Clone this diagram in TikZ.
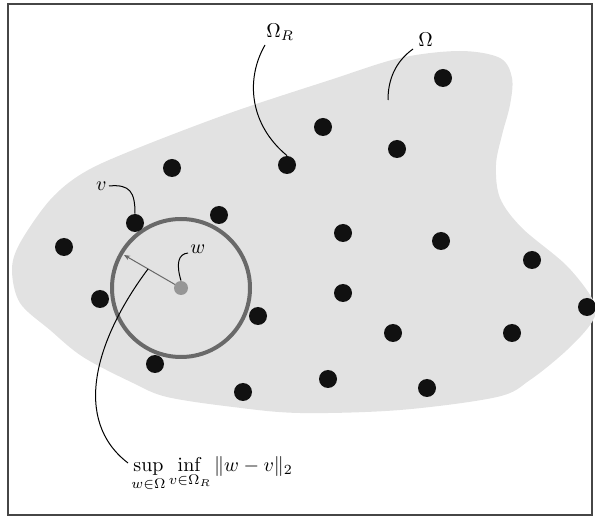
\documentclass[tikz,border=0pt]{standalone}
\usepackage{amsmath}
\usetikzlibrary{arrows.meta}
\definecolor{blobgray}{RGB}{226,226,226}
\definecolor{ringgray}{RGB}{105,105,105}
\definecolor{dotblack}{RGB}{17,17,17}
\definecolor{wgray}{RGB}{150,150,150}
\definecolor{framegray}{RGB}{70,70,70}
\begin{document}
\begin{tikzpicture}[x=0.5pt,y=-0.5pt,
  pt/.style={circle,fill=dotblack,inner sep=0pt,minimum size=9pt},
  wpt/.style={circle,fill=wgray,inner sep=0pt,minimum size=7pt},
  leader/.style={draw=black,line width=0.5pt},
  lbl/.style={inner sep=0pt}]
\useasboundingbox (0,0) rectangle (595,518);
\draw[framegray,line width=0.8pt] (8,4) rectangle (592,515);
% region Omega
\fill[blobgray] plot[smooth cycle,tension=0.55] coordinates {
 (83,173) (133,150) (230,113) (330,80) (400,58) (460,51) (500,58) (512,78)
 (510,105) (502,135) (496,165) (500,198) (522,228) (567,266) (594,302)
 (592,322) (567,350) (530,380) (497,397) (400,410) (300,413) (233,407)
 (167,397) (133,383) (83,357) (50,330) (20,303) (12,270) (20,243) (50,200)};
% ring and radius arrow
\coordinate (c) at (181,288);
\coordinate (tip) at (124,255);
\draw[ringgray,line width=2pt] (c) circle[radius=34.5pt];
\draw[ringgray,line width=0.5pt,-{Stealth[length=3pt,width=2.4pt]}] (c) -- (tip);
\node[wpt] (w) at (c) {};
% points of Omega_R
\node[pt] (d1) at (443,78) {};
\node[pt] (d2) at (323,127) {};
\node[pt] (d3) at (397,149) {};
\node[pt] (dR) at (287,165) {};
\node[pt] (d5) at (172,168) {};
\node[pt] (d6) at (219,215) {};
\node[pt] (dv) at (135,223) {};
\node[pt] (d8) at (64,247) {};
\node[pt] (d9) at (343,233) {};
\node[pt] (d10) at (441,241) {};
\node[pt] (d11) at (532,260) {};
\node[pt] (d12) at (100,299) {};
\node[pt] (d13) at (343,293) {};
\node[pt] (d14) at (258,316) {};
\node[pt] (d15) at (587,307) {};
\node[pt] (d16) at (393,333) {};
\node[pt] (d17) at (512,333) {};
\node[pt] (d18) at (155,364) {};
\node[pt] (d19) at (328,379) {};
\node[pt] (d20) at (243,392) {};
\node[pt] (d21) at (427,388) {};
% labels
\node[lbl,anchor=base west] (OR) at (266,38) {$\Omega_R$};
\node[lbl,anchor=base west] (O) at (418,47) {$\Omega$};
\node[lbl,anchor=east] (v) at (107,186) {$v$};
\node[lbl,anchor=west] (wl) at (190,249) {$w$};
\node[lbl,anchor=base west] (sup) at (131,472) {$\displaystyle\sup_{w\in\Omega}\inf_{v\in\Omega_R}\|w-v\|_2$};
% leaders
\coordinate (ORs) at (265,45);
\coordinate (Os) at (413,49);
\coordinate (Oe) at (388,100);
\coordinate (vs) at (109,186);
\coordinate (ws) at (188,253);
\coordinate (ss) at (148,269);
\coordinate (se) at (128,463);
\draw[leader] (ORs) .. controls (245,80) and (250,125) .. (dR.north);
\draw[leader] (Os) .. controls (395,62) and (388,80) .. (Oe);
\draw[leader] (vs) .. controls (130,184) and (135,192) .. (dv.north);
\draw[leader] (ws) .. controls (178,254) and (176,264) .. (w.north);
\draw[leader] (ss) .. controls (95,340) and (72,420) .. (se);
\end{tikzpicture}
\end{document}
